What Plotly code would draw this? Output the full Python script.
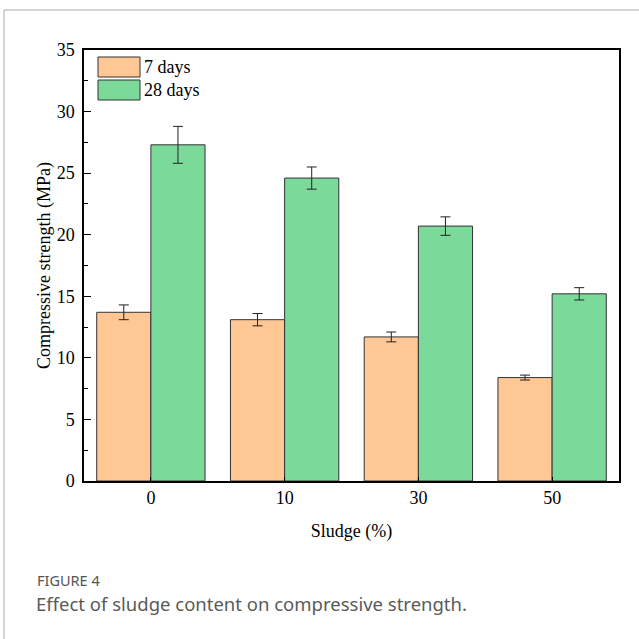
import plotly.graph_objects as go

categories = ["0", "10", "30", "50"]
days7 = [13.7, 13.1, 11.7, 8.4]
days7_err = [0.6, 0.5, 0.4, 0.2]
days28 = [27.3, 24.6, 20.7, 15.2]
days28_err = [1.5, 0.9, 0.75, 0.5]
series_names = ["7 days", "28 days"]

orange = "#FEC794"
green = "#7BD99A"
edge = "#333333"
serif = "Liberation Serif, Times New Roman, serif"

L, R, T, B = 84, 20, 50, 158
W, H = 639, 639
pw, ph = W - L - R, H - T - B

def px(x):
    return (x - L) / pw

def py(y):
    return (H - B - y) / ph

fig = go.Figure()
fig.add_trace(go.Bar(x=categories, y=days7, name=series_names[0],
                     marker=dict(color=orange, line=dict(color=edge, width=1)),
                     error_y=dict(type="data", array=days7_err, color="#222", thickness=1, width=5)))
fig.add_trace(go.Bar(x=categories, y=days28, name=series_names[1],
                     marker=dict(color=green, line=dict(color=edge, width=1)),
                     error_y=dict(type="data", array=days28_err, color="#222", thickness=1, width=5)))

shapes = []
annotations = []
# legend swatches
for i, (nm, col) in enumerate(zip(series_names, [orange, green])):
    y0 = 57 + i * 23
    shapes.append(dict(type="rect", xref="paper", yref="paper",
                       x0=px(98), x1=px(140), y0=py(y0 + 20), y1=py(y0),
                       fillcolor=col, line=dict(color=edge, width=1)))
    annotations.append(dict(text=nm, xref="paper", yref="paper", x=px(142), y=py(y0 + 10),
                            xanchor="left", yanchor="middle", showarrow=False,
                            font=dict(family=serif, size=18, color="black")))
# outer frame
shapes.append(dict(type="line", xref="paper", yref="paper", x0=px(4), x1=px(645), y0=py(10), y1=py(10),
                   line=dict(color="#AAAAAA", width=1)))
shapes.append(dict(type="line", xref="paper", yref="paper", x0=px(4), x1=px(4), y0=py(10), y1=py(645),
                   line=dict(color="#AAAAAA", width=1)))
annotations.append(dict(text="FIGURE 4", xref="paper", yref="paper", x=px(35), y=py(580),
                        xanchor="left", yanchor="middle", showarrow=False,
                        font=dict(family="Noto Sans, sans-serif", size=14.5, color="#555555")))
annotations.append(dict(text="Effect of sludge content on compressive strength.", xref="paper", yref="paper",
                        x=px(34), y=py(603), xanchor="left", yanchor="middle", showarrow=False,
                        font=dict(family="Noto Sans, sans-serif", size=18.5, color="#5a5a5a")))

fig.update_layout(
    width=W, height=H,
    margin=dict(l=L, r=R, t=T, b=B, pad=0),
    paper_bgcolor="white", plot_bgcolor="white",
    barmode="group", bargap=0.19, bargroupgap=0,
    showlegend=False,
    shapes=shapes, annotations=annotations,
    font=dict(family=serif, size=18, color="black"),
)
fig.update_xaxes(type="category", range=[-0.5, 3.5], showline=True, linecolor="black", linewidth=1.5,
                 mirror=True, ticks="inside", ticklen=4, tickcolor="black", showgrid=False,
                 title=dict(text="Sludge (%)", font=dict(family=serif, size=18), standoff=17),
                 tickfont=dict(family=serif, size=18))
fig.update_yaxes(range=[0, 35], dtick=5, showline=True, linecolor="black", linewidth=1.5,
                 mirror=True, ticks="inside", ticklen=7, tickcolor="black", showgrid=False,
                 zeroline=False, ticklabelstandoff=4,
                 minor=dict(dtick=2.5, ticks="inside", ticklen=4, tickcolor="black"),
                 title=dict(text="Compressive strength (MPa)", font=dict(family=serif, size=18), standoff=1),
                 tickfont=dict(family=serif, size=18))

fig.write_html("out.html", config={"displayModeBar": False},
               post_script="document.body.style.margin='0';")
